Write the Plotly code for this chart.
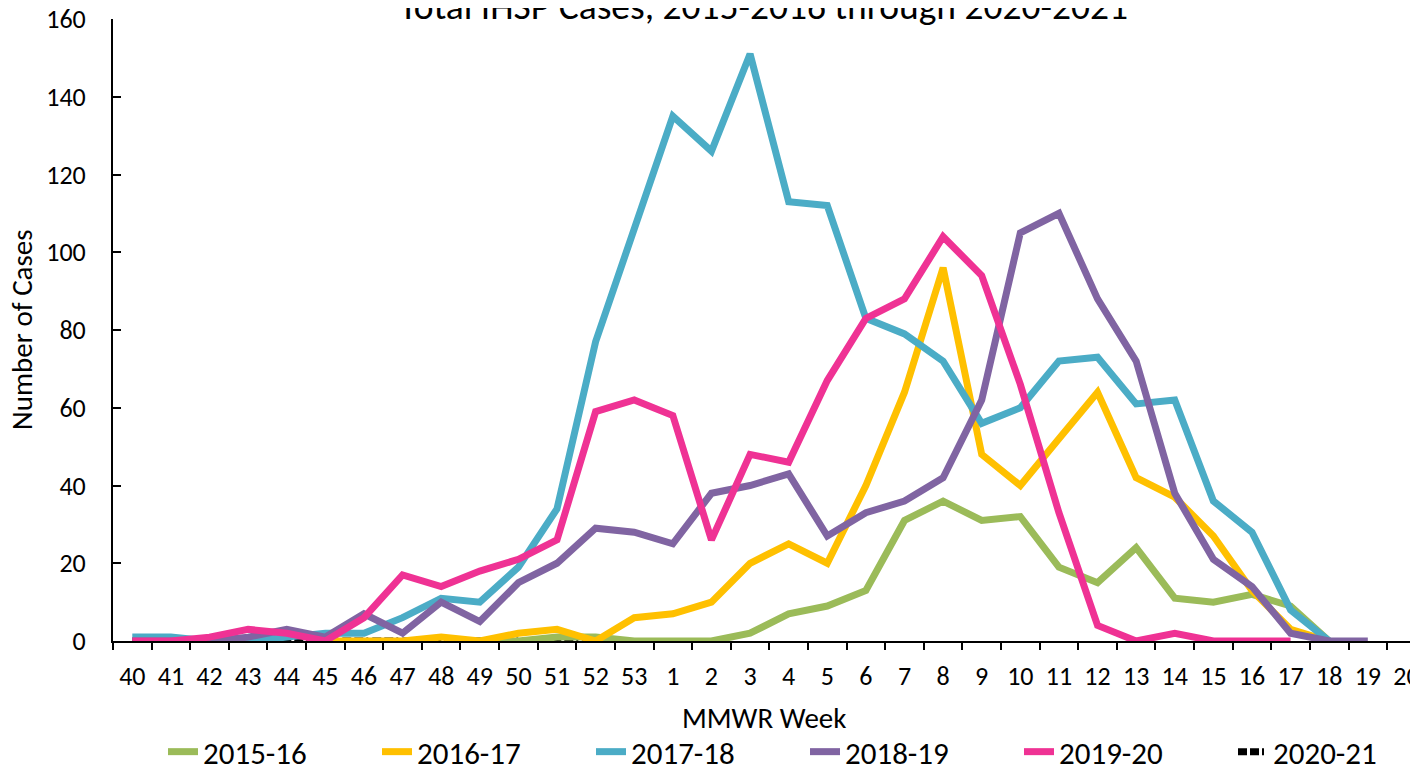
import plotly.graph_objects as go

weeks = [str(w) for w in range(40, 54)] + [str(w) for w in range(1, 21)]

# Values by MMWR week (40..53, 1..20); None = not reported
s2015_16 = [None, None, None, None, None, None, None, None, None, 0, 0, 1, 1, 0,
            0, 0, 2, 7, 9, 13, 31, 36, 31, 32, 19, 15, 24, 11, 10, 12, 9, 0, None, None]
s2016_17 = [None, None, None, None, None, 0, 0, 0, 1, 0, 2, 3, 0, 6,
            7, 10, 20, 25, 20, 40, 64, 96, 48, 40, 52, 64, 42, 37, 27, 13, 3, 0, None, None]
s2017_18 = [1, 1, 0, 0, 1, 2, 2, 6, 11, 10, 19, 34, 77, 106,
            135, 126, 151, 113, 112, 83, 79, 72, 56, 60, 72, 73, 61, 62, 36, 28, 8, 0, None, None]
s2018_19 = [0, 0, 0, 1, 3, 1, 7, 2, 10, 5, 15, 20, 29, 28,
            25, 38, 40, 43, 27, 33, 36, 42, 62, 105, 110, 88, 72, 38, 21, 14, 2, 0, 0, None]
s2019_20 = [0, 0, 1, 3, 2, 0, 6, 17, 14, 18, 21, 26, 59, 62,
            58, 26, 48, 46, 67, 83, 88, 104, 94, 66, 33, 4, 0, 2, 0, 0, 0, None, None, None]
s2020_21 = [0, 0, 0, 0, 0, 0, 0, 0, 0, 0, 0, 0, 0, None,
            None, None, None, None, None, None, None, None, None, None, None, None, None,
            None, None, None, None, None, None, None]

# (name, values, colour, dash, legend rank); 2020-21 drawn first so it sits underneath
series = [
    ("2020-21", s2020_21, "#000000", "9px,3px,9px,3px,2px,4px", 6),
    ("2015-16", s2015_16, "#9BBB59", "solid", 1),
    ("2016-17", s2016_17, "#FFC000", "solid", 2),
    ("2017-18", s2017_18, "#4BACC6", "solid", 3),
    ("2018-19", s2018_19, "#8064A2", "solid", 4),
    ("2019-20", s2019_20, "#EF3294", "solid", 5),
]

FONT = "Carlito, Lato, sans-serif"
W, H = 1410, 761  # page body has an 8px margin inside the 1418x769 window
ML, MT, MB = 105, 11, 128
PW, PH = W - ML, H - MT - MB

fig = go.Figure()
for name, vals, color, dash, rank in series:
    fig.add_trace(go.Scatter(
        x=weeks, y=vals, name=name, mode="lines",
        line=dict(color=color, width=7, dash=dash),
        connectgaps=False, legendrank=rank,
    ))

fig.update_layout(
    width=W, height=H,
    margin=dict(l=ML, r=0, t=MT, b=MB, autoexpand=False),
    paper_bgcolor="white", plot_bgcolor="white",
    font=dict(family=FONT, size=26, color="black"),
    title=dict(
        text="Total IHSP Cases, 2015-2016 through 2020-2021",
        font=dict(family=FONT, size=37.5, color="black"),
        x=755.5 / W, xanchor="center", xref="container",
        y=1 - 10.5 / H, yanchor="bottom", yref="container",
    ),
    showlegend=True,
    legend=dict(
        orientation="h",
        xref="container", yref="container",
        x=155 / W, xanchor="left",
        y=1 - 744 / H, yanchor="middle",
        entrywidth=169, entrywidthmode="pixels",
        font=dict(family=FONT, size=31),
        bgcolor="rgba(0,0,0,0)",
    ),
    annotations=[
        dict(text="MMWR Week", xref="paper", yref="paper",
             x=(755.5 - ML) / PW, y=(MT + PH - 710) / PH,
             xanchor="center", yanchor="middle", showarrow=False,
             font=dict(family=FONT, size=29)),
        dict(text="Number of Cases", xref="paper", yref="paper",
             x=(14 - ML) / PW, y=0.5, textangle=-90,
             xanchor="center", yanchor="middle", showarrow=False,
             font=dict(family=FONT, size=29)),
    ],
)

fig.update_xaxes(
    type="category", range=[-0.5, 33.3], automargin=False,
    showline=True, linecolor="black", linewidth=2,
    ticks="outside", ticklen=7, tickwidth=2, tickcolor="black",
    tickson="boundaries", showgrid=False, zeroline=False,
    ticklabelstandoff=11, ticklabeloverflow="allow",
)
fig.update_yaxes(
    range=[0, 160], dtick=20, automargin=False,
    showline=True, linecolor="black", linewidth=2,
    ticks="inside", ticklen=8, tickwidth=2, tickcolor="black",
    showgrid=False, zeroline=False,
    ticklabelstandoff=20, ticklabeloverflow="allow",
)

fig.write_html("out.html")
